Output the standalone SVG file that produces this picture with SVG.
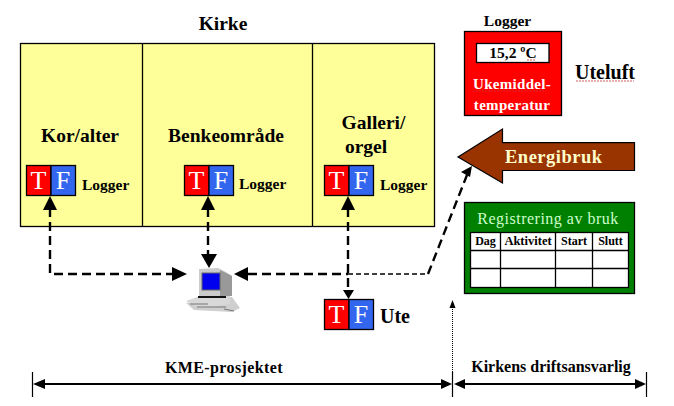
<svg xmlns="http://www.w3.org/2000/svg" width="674" height="406" viewBox="0 0 674 406">
<style>
text { font-family: "Liberation Serif", "Times New Roman", serif; font-weight: bold; fill: #000; }
.m { text-anchor: middle; }
.room { font-size: 19.5px; }
.log { font-size: 15.5px; }
.ltr { font-size: 26px; font-weight: normal; fill: #fff; text-anchor: middle; }
.o { stroke: #000; stroke-width: 1.3; }
.grid { stroke: #000; stroke-width: 1.3; fill: none; }
.dash { fill: none; stroke: #000; stroke-width: 2.4; stroke-dasharray: 9 5; }
.thin { fill: none; stroke: #000; stroke-width: 1.3; stroke-dasharray: 5 3; }
.dot { fill: none; stroke: #000; stroke-width: 1; stroke-dasharray: 1 1; }
.span { fill: none; stroke: #000; stroke-width: 2.2; }
.tick { stroke: #000; stroke-width: 1.2; }
.squig { fill: none; stroke: #c33; stroke-width: .8; stroke-dasharray: 2 1; }
</style>
<defs>
<g id="tf">
<rect class="o" x="0.5" y="0.5" width="24.5" height="30" fill="#f00"/>
<rect class="o" x="25" y="0.5" width="24.5" height="30" fill="#3366ee"/>
<text class="ltr" x="12.5" y="24">T</text>
<text class="ltr" x="37" y="24">F</text>
</g>
</defs>

<g id="kirke">
<rect class="o" x="20.5" y="43.5" width="414" height="183" fill="#ffff99"/>
<path class="o" d="M142.5 43.5V226.5M312.5 43.5V226.5" fill="none"/>
<text class="room m" x="223" y="30">Kirke</text>
</g>

<g id="kor">
<text class="room m" x="80" y="142">Kor/alter</text>
<use href="#tf" x="26" y="165"/>
<text class="log" x="82" y="190">Logger</text>
</g>
<g id="benke">
<text class="room m" x="226" y="142">Benkeområde</text>
<use href="#tf" x="184" y="165"/>
<text class="log" x="239" y="189">Logger</text>
</g>
<g id="galleri">
<text class="room m" x="373.5" y="129">Galleri/</text>
<text class="room m" x="366" y="153">orgel</text>
<use href="#tf" x="324" y="165"/>
<text class="log" x="380" y="190">Logger</text>
</g>
<g id="ute">
<use href="#tf" x="324" y="299"/>
<text x="380" y="323" font-size="20">Ute</text>
</g>

<g id="uteluft-logger">
<text class="log m" x="507.5" y="26">Logger</text>
<rect class="o" x="464.5" y="31.5" width="97" height="84" fill="#f00"/>
<rect class="o" x="476.5" y="43.5" width="72.5" height="19" fill="#fff"/>
<text class="m" x="513" y="58" font-size="15.5">15,2 ºC</text>
<path class="squig" d="M527 60h9"/>
<text class="m" x="512" y="89" font-size="15" style="fill:#fff;letter-spacing:.3px">Ukemiddel-</text>
<text class="m" x="512" y="110" font-size="15" style="fill:#fff;letter-spacing:.3px">temperatur</text>
<path class="squig" d="M473 91h73"/>
</g>
<g id="uteluft">
<text x="575" y="79" font-size="20">Uteluft</text>
<path class="squig" d="M576 81h58"/>
</g>

<g id="energibruk">
<path d="M458 157 L502.5 129 V142.7 H634.5 V170.5 H502.5 V183 Z" fill="#993300" stroke="#000" stroke-width="1.2"/>
<text x="505" y="163" font-size="18.5" style="fill:#ffffcc;letter-spacing:.5px">Energibruk</text>
</g>

<g id="registrering">
<rect class="o" x="464.5" y="202.5" width="170" height="91" fill="#008000"/>
<text class="m" x="548" y="224" font-size="16" style="fill:#ccffcc;font-weight:normal;letter-spacing:.5px">Registrering av bruk</text>
<rect class="grid" x="470.5" y="232.5" width="158" height="55" style="fill:#fff"/>
<path class="grid" d="M470.5 250.5H628.5M470.5 268.5H628.5M500.5 232.5V287.5M555.5 232.5V287.5M592.5 232.5V287.5"/>
<text class="m" x="485.5" y="245" font-size="12">Dag</text>
<text class="m" x="528" y="245" font-size="12.5">Aktivitet</text>
<text class="m" x="574" y="245" font-size="12">Start</text>
<text class="m" x="610.5" y="245" font-size="12">Slutt</text>
</g>

<g id="pc">
<path d="M186 303 L214 297 H232 L240 308 L232 312 L194 310 Z" fill="#cfcfcf"/>
<path d="M186 301 L200 296 L230 296 V304 L200 308 Z" fill="#d8d8d8"/>
<path d="M198 296 H226 V298 H198 Z" fill="#111"/>
<path d="M199 269 L218 268 L226 272 L232 276 V296 L216 296 H199 Z" fill="#cbcbcb"/>
<path d="M220 270 L232 276 V296 L220 296 Z" fill="#999"/>
<rect x="202" y="273" width="18" height="17" fill="#0000ee" stroke="#666" stroke-width="1"/>
<path d="M190 304 H208 M197 307 H226 M224 309 l10 2" stroke="#777" stroke-width="1"/>
</g>

<g id="connectors">
<path class="dash" d="M50 208V274H176"/>
<path d="M50 196L43 210H57Z"/>
<path d="M187 274L172 267V281Z"/>
<path class="dash" d="M208 208V256"/>
<path d="M208 196L201 210H215Z"/>
<path d="M209 268L201 254H217Z"/>
<path class="dash" d="M248 274H348"/>
<path d="M234 274L248 267V281Z"/>
<path class="thin" d="M348 274H428"/>
<path class="dash" d="M428 274L467 175"/>
<path d="M472 166L461 172L470 177Z"/>
<path class="dash" d="M348 208V290"/>
<path d="M348 196L341 210H355Z"/>
<path d="M348.5 299L343 290H354Z"/>
<path class="dot" d="M452.5 372V308"/>
<path d="M452.5 300L449.5 308H455.5Z"/>
<path class="span" d="M44 384H442M464 384H636"/>
<path d="M33 384L45 379V389Z"/>
<path d="M452 384L441 379V389Z"/>
<path d="M454 384L465 379V389Z"/>
<path d="M646 384L635 379V389Z"/>
<path class="tick" d="M32.5 372V397M452.5 372V397M646.5 372V397"/>
</g>

<g id="labels">
<text class="m" x="224" y="373" font-size="16" style="letter-spacing:.4px">KME-prosjektet</text>
<text class="m" x="551" y="372" font-size="16">Kirkens driftsansvarlig</text>
</g>
</svg>
